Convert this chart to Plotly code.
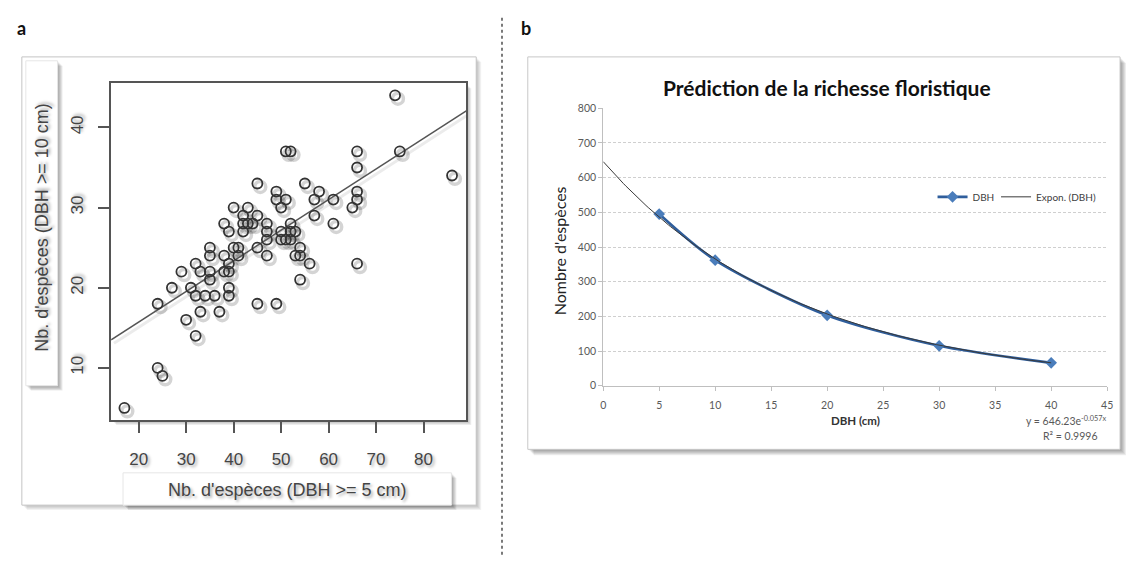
import numpy as np
import plotly.graph_objects as go

# ---- Panel a: species counts, DBH >= 5 cm vs DBH >= 10 cm ----
nb_dbh5 = [74, 51, 52, 66, 75, 66, 86, 45, 55, 49, 58, 66, 49, 51, 57, 61, 66,
           40, 43, 50, 65, 42, 45, 57, 38, 42, 43, 44, 47, 52, 61, 39, 42, 47,
           50, 52, 53, 47, 50, 51, 52, 35, 40, 41, 45, 54, 35, 38, 41, 47, 53,
           54, 32, 39, 56, 66, 29, 33, 35, 38, 39, 35, 54, 27, 31, 39, 32, 34,
           36, 39, 24, 45, 49, 33, 37, 30, 32, 24, 25, 17]
nb_dbh10 = [44, 37, 37, 37, 37, 35, 34, 33, 33, 32, 32, 32, 31, 31, 31, 31, 31,
            30, 30, 30, 30, 29, 29, 29, 28, 28, 28, 28, 28, 28, 28, 27, 27, 27,
            27, 27, 27, 26, 26, 26, 26, 25, 25, 25, 25, 25, 24, 24, 24, 24, 24,
            24, 23, 23, 23, 23, 22, 22, 22, 22, 22, 21, 21, 20, 20, 20, 19, 19,
            19, 19, 18, 18, 18, 17, 17, 16, 14, 10, 9, 5]
reg_intercept = 8.07
reg_slope = 0.382
a_xticks = [20, 30, 40, 50, 60, 70, 80]
a_yticks = [10, 20, 30, 40]
a_xrange = [14.2, 89.0]
a_yrange = [3.5, 45.5]

# ---- Panel b: species richness vs minimum DBH ----
dbh_cm = [5, 10, 20, 30, 40]
nb_especes = [495, 362, 203, 115, 66]
expo_a = 646.23
expo_b = -0.057
r2 = 0.9996
b_xticks = [0, 5, 10, 15, 20, 25, 30, 35, 40, 45]
b_yticks = [0, 100, 200, 300, 400, 500, 600, 700, 800]

W, H = 1132, 563


def px(x):
    return x / W


def py(y):
    return 1 - y / H


shapes = []


def box(x0, y0, x1, y1, line_color, line_width, shadow=5, alpha=0.06, fill="white"):
    for d in range(shadow, 0, -1):
        shapes.append(dict(type="rect", xref="paper", yref="paper", layer="below",
                           x0=px(x0 + d), x1=px(x1 + d), y0=py(y0 + d), y1=py(y1 + d),
                           line=dict(width=0), fillcolor=f"rgba(0,0,0,{alpha})"))
    shapes.append(dict(type="rect", xref="paper", yref="paper", layer="below",
                       x0=px(x0), x1=px(x1), y0=py(y0), y1=py(y1),
                       line=dict(color=line_color, width=line_width), fillcolor=fill))


# panel a frames
box(19, 52, 477, 510, "#c4c4c4", 1, shadow=5, alpha=0.05)
box(109, 79, 467, 423, "rgba(0,0,0,0)", 0, shadow=5, alpha=0.07)
box(23, 56, 55, 388, "#e6e6e6", 1, shadow=5, alpha=0.08)
box(121, 477, 452, 510, "#e6e6e6", 1, shadow=5, alpha=0.08)
# panel b frame
box(529, 52, 1126, 453, "#c8c8c8", 1, shadow=6, alpha=0.07)

# separator between panels
shapes.append(dict(type="line", xref="paper", yref="paper",
                   x0=px(503), x1=px(503), y0=py(12), y1=0,
                   line=dict(color="#222222", width=1.2, dash="dot")))

shadow_txt = "2px 2px 3px rgba(0,0,0,0.35)"
font_a = dict(family="Liberation Sans, Arial, sans-serif", size=17, color="#444444",
              shadow=shadow_txt)
font_a_title = dict(family="Liberation Sans, Arial, sans-serif", size=18, color="#444444",
                    shadow=shadow_txt)
font_b = "Lato, Open Sans, sans-serif"

fig = go.Figure()

# soft shadow under the scatter rings
dx = 0.6
dy = -0.42
fig.add_trace(go.Scatter(
    x=[v + dx for v in nb_dbh5], y=[v + dy for v in nb_dbh10],
    mode="markers", xaxis="x", yaxis="y", showlegend=False, hoverinfo="skip",
    marker=dict(symbol="circle-open", size=11, color="rgba(0,0,0,0.17)",
                line=dict(width=3.5, color="rgba(0,0,0,0.17)"))))

# regression line with its shadow
reg_x = np.array(a_xrange)
reg_y = reg_intercept + reg_slope * reg_x
fig.add_trace(go.Scatter(x=reg_x + dx, y=reg_y + dy, mode="lines", xaxis="x", yaxis="y",
                         showlegend=False, hoverinfo="skip",
                         line=dict(color="rgba(0,0,0,0.08)", width=3)))
fig.add_trace(go.Scatter(x=reg_x, y=reg_y, mode="lines", xaxis="x", yaxis="y",
                         showlegend=False, line=dict(color="#555555", width=1.5)))

fig.add_trace(go.Scatter(
    x=nb_dbh5, y=nb_dbh10, mode="markers", xaxis="x", yaxis="y", showlegend=False,
    marker=dict(symbol="circle-open", size=10, color="#333333",
                line=dict(width=1.8, color="#333333"))))

# panel b: observed values and exponential trend
fig.add_trace(go.Scatter(
    x=dbh_cm, y=nb_especes, mode="lines+markers", name="DBH", xaxis="x2", yaxis="y2",
    legend="legend",
    line=dict(color="#2f5e9c", width=2.6, shape="spline", smoothing=0.8),
    marker=dict(symbol="diamond", size=9, color="#4a7dbb")))
trend_x = np.linspace(0, max(dbh_cm), 200)
trend_y = expo_a * np.exp(expo_b * trend_x)
fig.add_trace(go.Scatter(
    x=trend_x, y=trend_y, mode="lines", name="Expon. (DBH)", xaxis="x2", yaxis="y2",
    legend="legend2", line=dict(color="#3a3a3a", width=1)))

annotations = [
    dict(text="<b>a</b>", x=px(12), y=py(22), xref="paper", yref="paper", showarrow=False,
         xanchor="left", yanchor="middle", font=dict(family=font_b, size=18, color="#111111")),
    dict(text="<b>b</b>", x=px(520), y=py(22), xref="paper", yref="paper", showarrow=False,
         xanchor="left", yanchor="middle", font=dict(family=font_b, size=18, color="#111111")),
    dict(text="Nb. d'espèces (DBH >= 10 cm)", x=px(40), y=py(226), xref="paper", yref="paper",
         showarrow=False, textangle=-90, xanchor="center", yanchor="middle", font=font_a_title),
    dict(text="Nb. d'espèces (DBH >= 5 cm)", x=px(287), y=py(495), xref="paper", yref="paper",
         showarrow=False, xanchor="center", yanchor="middle", font=font_a_title),
    dict(text="<b>Prédiction de la richesse floristique</b>", x=px(831), y=py(83), xref="paper",
         yref="paper", showarrow=False, xanchor="center", yanchor="middle",
         font=dict(family=font_b, size=21, color="#111111")),
    dict(text="Nombre d'espèces", x=px(561), y=py(250), xref="paper", yref="paper",
         showarrow=False, textangle=-90, xanchor="center", yanchor="middle",
         font=dict(family=font_b, size=16, color="#222222")),
    dict(text="<b>DBH (cm)</b>", x=px(859), y=py(424), xref="paper", yref="paper",
         showarrow=False, xanchor="center", yanchor="middle",
         font=dict(family=font_b, size=11.5, color="#333333")),
    dict(text=f"y = {expo_a}e<sup>{expo_b}x</sup>", x=px(1115), y=py(424), xref="paper",
         yref="paper", showarrow=False, xanchor="right", yanchor="middle",
         font=dict(family=font_b, size=10.5, color="#595959")),
    dict(text=f"R² = {r2}", x=px(1105), y=py(439), xref="paper", yref="paper",
         showarrow=False, xanchor="right", yanchor="middle",
         font=dict(family=font_b, size=10.5, color="#595959")),
]

legend_font = dict(family=font_b, size=10, color="#404040")

fig.update_layout(
    width=W, height=H, autosize=False,
    margin=dict(l=0, r=0, t=0, b=0),
    paper_bgcolor="white", plot_bgcolor="rgba(0,0,0,0)",
    shapes=shapes, annotations=annotations,
    xaxis=dict(domain=[px(109), px(467)], range=a_xrange, tickvals=a_xticks,
               showgrid=False, zeroline=False, showline=True, mirror=True,
               linecolor="#555555", linewidth=1.5, ticks="outside", ticklen=11,
               tickwidth=1.5, tickcolor="#555555", tickfont=font_a, ticklabelstandoff=12,
               anchor="y", fixedrange=True),
    yaxis=dict(domain=[py(423), py(79)], range=a_yrange, tickvals=a_yticks,
               showgrid=False, zeroline=False, showline=True, mirror=True,
               linecolor="#555555", linewidth=1.5, ticks="outside", ticklen=11,
               tickwidth=1.5, tickcolor="#555555", tickfont=font_a, tickangle=-90,
               ticklabelstandoff=9, anchor="x", fixedrange=True),
    xaxis2=dict(domain=[px(605), px(1113)], range=[0, 45], tickvals=b_xticks,
                showgrid=False, zeroline=False, showline=True, linecolor="#bfbfbf",
                linewidth=1, ticks="outside", ticklen=4, tickcolor="#bfbfbf",
                tickfont=dict(family=font_b, size=10.5, color="#595959"),
                ticklabelstandoff=6, anchor="y2", fixedrange=True),
    yaxis2=dict(domain=[py(388), py(104.5)], range=[0, 800], tickvals=b_yticks,
                showgrid=True, gridcolor="#cfcfcf", griddash="3px,2px", gridwidth=1,
                zeroline=False, showline=True, linecolor="#bfbfbf", linewidth=1,
                ticks="outside", ticklen=4, tickcolor="#bfbfbf",
                tickfont=dict(family=font_b, size=10.5, color="#595959"),
                anchor="x2", fixedrange=True),
    legend=dict(x=px(937), y=py(195), xanchor="left", yanchor="middle",
                orientation="h", bgcolor="rgba(0,0,0,0)", font=legend_font,
                itemwidth=30),
    legend2=dict(x=px(1001), y=py(195), xanchor="left", yanchor="middle",
                 orientation="h", bgcolor="rgba(0,0,0,0)", font=legend_font,
                 itemwidth=30),
    showlegend=True,
)

fig.write_html("out.html")
